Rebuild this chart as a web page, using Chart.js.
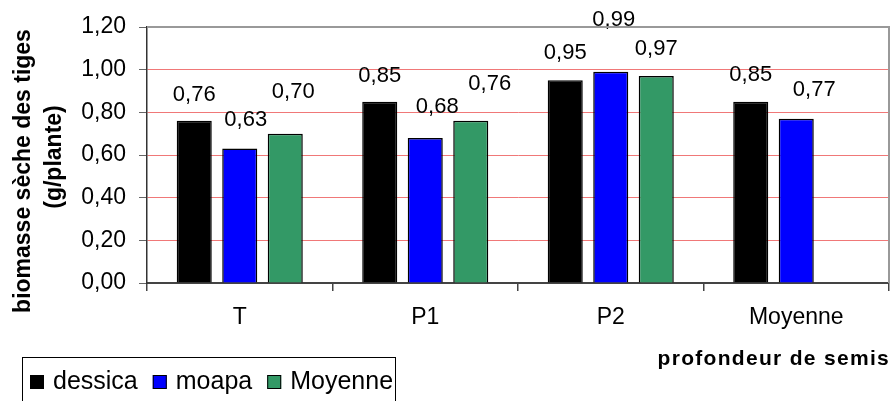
<!DOCTYPE html>
<html>
<head>
<meta charset="utf-8">
<script src="https://cdn.jsdelivr.net/npm/chart.js@4/dist/chart.umd.min.js"></script>
<style>
  html, body { margin: 0; padding: 0; background: #ffffff; }
  #wrap { width: 893px; height: 401px; }
</style>
</head>
<body>
<div id="wrap"><canvas id="c" width="893" height="401"></canvas></div>
<script>
// ---- data ----
const categories = ['T', 'P1', 'P2', 'Moyenne'];
const seriesNames = ['dessica', 'moapa', 'Moyenne'];
const dessica = [0.76, 0.85, 0.95, 0.85];
const moapa   = [0.63, 0.68, 0.99, 0.77];
const moyenne = [0.70, 0.76, 0.97, null];
const yTicks  = [0, 0.2, 0.4, 0.6, 0.8, 1.0, 1.2];
const yTitleLines = ['biomasse sèche des tiges', '(g/plante)'];
const xTitle = 'profondeur de semis';

// ---- style ----
const FONT = "'Liberation Sans', Arial, sans-serif";
const colors = ['#000000', '#0000ff', '#339966'];
// small nudges of the value labels relative to their default place (dx, dy in px)
const labelNudge = [
  [[0, 1], [0, 1], [0, 0], [0, 0]],
  [[6, -2], [12, -4], [3, -25], [18, -2]],
  [[8, -15], [19, -10], [0, 0], [0, 0]]
];
const fmt = v => v.toFixed(2).replace('.', ',');

const valueLabels = {
  id: 'valueLabels',
  afterDatasetsDraw(chart) {
    const ctx = chart.ctx;
    ctx.save();
    ctx.font = '22px ' + FONT;
    ctx.fillStyle = '#000';
    ctx.textAlign = 'center';
    ctx.textBaseline = 'middle';
    chart.data.datasets.forEach((ds, di) => {
      const meta = chart.getDatasetMeta(di);
      meta.data.forEach((el, i) => {
        const v = ds.data[i];
        if (v === null || v === undefined) return;
        const n = labelNudge[di][i];
        ctx.fillText(fmt(v), el.x + n[0], el.y - 27 + n[1]);
      });
    });
    ctx.restore();
  }
};

const decorations = {
  id: 'decorations',
  afterDraw(chart) {
    const ctx = chart.ctx;
    const a = chart.chartArea;
    ctx.save();
    // top and right frame of the plot area
    ctx.strokeStyle = '#999999';
    ctx.lineWidth = 2;
    ctx.beginPath();
    ctx.moveTo(a.left, a.top);
    ctx.lineTo(a.right, a.top);
    ctx.lineTo(a.right, a.bottom);
    ctx.stroke();

    // y axis title (two lines, rotated)
    ctx.fillStyle = '#000';
    ctx.font = 'bold 23px ' + FONT;
    ctx.textAlign = 'center';
    ctx.textBaseline = 'middle';
    const yPos = [[24, 171], [55, 157]];
    yTitleLines.forEach((t, k) => {
      ctx.save();
      ctx.translate(yPos[k][0], yPos[k][1]);
      ctx.rotate(-Math.PI / 2);
      ctx.fillText(t, 0, 0);
      ctx.restore();
    });

    // x axis title
    ctx.font = 'bold 21px ' + FONT;
    ctx.textAlign = 'right';
    ctx.textBaseline = 'alphabetic';
    try { ctx.letterSpacing = '1.3px'; } catch (e) {}
    ctx.fillText(xTitle, a.right + 1, 365);
    try { ctx.letterSpacing = '0px'; } catch (e) {}

    // legend with frame
    ctx.strokeStyle = '#000';
    ctx.lineWidth = 1;
    ctx.strokeRect(22.5, 357.5, 373, 60);
    ctx.font = '25px ' + FONT;
    ctx.textAlign = 'left';
    ctx.textBaseline = 'alphabetic';
    let x = 30;
    chart.data.datasets.forEach((ds, di) => {
      ctx.fillStyle = ds.backgroundColor;
      ctx.fillRect(x, 375, 14, 14);
      ctx.strokeStyle = '#000';
      ctx.strokeRect(x + 0.5, 375.5, 13, 13);
      ctx.fillStyle = '#000';
      ctx.fillText(ds.label, x + 23, 389);
      x += 23 + ctx.measureText(ds.label).width + 15;
    });
    ctx.restore();
  }
};

const datasets = [dessica, moapa, moyenne].map((d, i) => ({
  label: seriesNames[i],
  data: d,
  backgroundColor: colors[i],
  borderColor: '#000000',
  borderWidth: 1.5,
  categoryPercentage: 0.736,
  barPercentage: 0.77
}));

new Chart(document.getElementById('c'), {
  type: 'bar',
  data: { labels: categories, datasets },
  options: {
    responsive: false,
    animation: false,
    devicePixelRatio: 1,
    layout: { padding: { left: 0, top: 27, right: 4, bottom: 0 } },
    plugins: {
      legend: { display: false },
      tooltip: { enabled: false }
    },
    scales: {
      x: {
        grid: {
          offset: true,
          drawOnChartArea: false,
          drawTicks: true,
          tickLength: 8,
          tickColor: '#444444',
          lineWidth: 1.5
        },
        border: { display: true, color: '#444444', width: 2 },
        ticks: {
          color: '#000',
          font: { family: FONT, size: 23 },
          padding: 13,
          maxRotation: 0
        },
        afterFit(scale) { scale.height = 118; }
      },
      y: {
        min: 0,
        max: 1.2,
        afterBuildTicks(scale) { scale.ticks = yTicks.map(v => ({ value: v })); },
        grid: {
          color: ctx => (ctx.tick && (ctx.tick.value === 0)) ? 'rgba(0,0,0,0)' :
                        (ctx.tick && ctx.tick.value === 1.2 ? '#999999' : '#f07878'),
          lineWidth: 1,
          tickLength: 8,
          tickColor: '#666666'
        },
        border: { display: true, color: '#333333', width: 1.5 },
        ticks: {
          color: '#000',
          font: { family: FONT, size: 23 },
          padding: 13,
          callback: v => fmt(v)
        },
        afterFit(scale) { scale.width = 147; }
      }
    }
  },
  plugins: [valueLabels, decorations]
});
</script>
</body>
</html>
